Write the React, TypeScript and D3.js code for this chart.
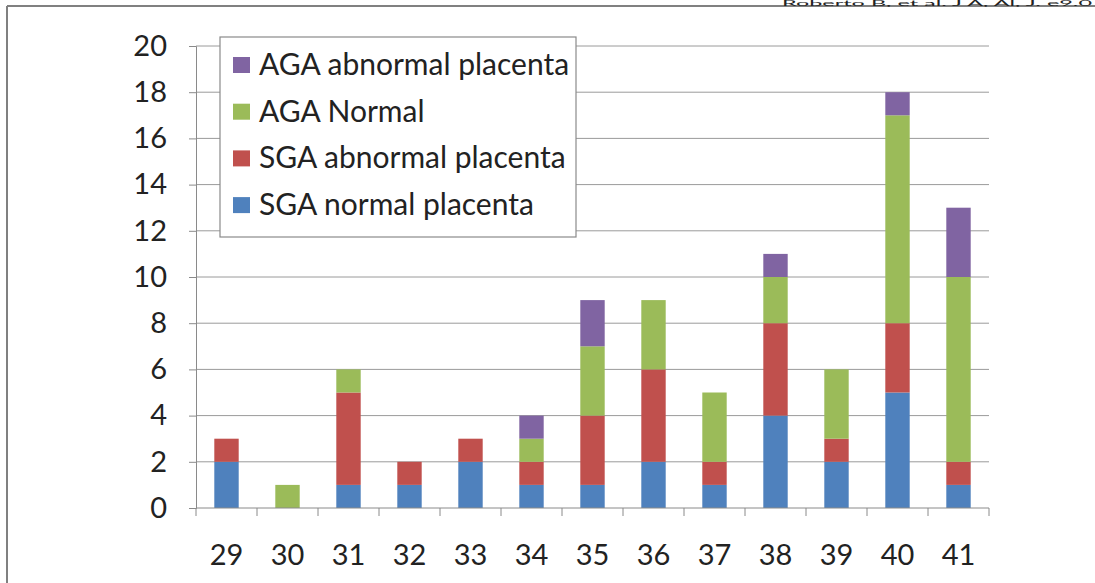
import React, { useRef, useEffect } from 'react';
import * as d3 from 'd3';

const weeks = ['29', '30', '31', '32', '33', '34', '35', '36', '37', '38', '39', '40', '41'];
const sgaNormal = [2, 0, 1, 1, 2, 1, 1, 2, 1, 4, 2, 5, 1];
const sgaAbnormal = [1, 0, 4, 1, 1, 1, 3, 4, 1, 4, 1, 3, 1];
const agaNormal = [0, 1, 1, 0, 0, 1, 3, 3, 3, 2, 3, 9, 8];
const agaAbnormal = [0, 0, 0, 0, 0, 1, 2, 0, 0, 1, 0, 1, 3];
const yTicks = [0, 2, 4, 6, 8, 10, 12, 14, 16, 18, 20];

const seriesNames = ['SGA normal placenta', 'SGA abnormal placenta', 'AGA Normal', 'AGA abnormal placenta'];
const seriesColors = ['#4F81BD', '#C0504D', '#9BBB59', '#8064A2'];

const W = 1095;
const H = 583;
const FONT = 'Lato, "Open Sans", sans-serif';

const App = () => {
  const svgRef = useRef<SVGSVGElement>(null);

  useEffect(() => {
    const svg = d3.select(svgRef.current).html('');

    // Frame
    svg.append('line').attr('x1', 7).attr('x2', W).attr('y1', 6).attr('y2', 6)
      .attr('stroke', '#808080').attr('stroke-width', 2);
    svg.append('line').attr('x1', 7).attr('x2', 7).attr('y1', 6).attr('y2', H)
      .attr('stroke', '#808080').attr('stroke-width', 2);
    svg.append('text').attr('x', 782).attr('y', 5.5)
      .attr('textLength', 310).attr('lengthAdjust', 'spacingAndGlyphs')
      .attr('font-family', FONT).attr('font-size', 7).attr('fill', '#222')
      .text('Roberto B, et al. J A, Al, J. e9.0');

    const x = d3.scaleBand().domain(weeks).range([196, 989]).paddingInner(0.6).paddingOuter(0.3);
    const y = d3.scaleLinear().domain([0, 20]).range([508, 46]);

    // Gridlines
    svg.append('g').selectAll('line').data(yTicks.slice(1)).join('line')
      .attr('x1', 196).attr('x2', 989)
      .attr('y1', d => y(d)).attr('y2', d => y(d))
      .attr('stroke', '#9a9a9a').attr('stroke-width', 1);

    // Stacked bars
    const rows = weeks.map((w, i) => ({
      week: w, s0: sgaNormal[i], s1: sgaAbnormal[i], s2: agaNormal[i], s3: agaAbnormal[i]
    }));
    const stack = d3.stack<any>().keys(['s0', 's1', 's2', 's3'])(rows);
    stack.forEach((layer, li) => {
      svg.append('g').selectAll('rect').data(layer).join('rect')
        .attr('x', d => x(d.data.week)!)
        .attr('width', x.bandwidth())
        .attr('y', d => y(d[1]))
        .attr('height', d => y(d[0]) - y(d[1]))
        .attr('fill', seriesColors[li]);
    });

    // Y axis
    const yAxis = svg.append('g').attr('transform', 'translate(196,0)')
      .call(d3.axisLeft(y).tickValues(yTicks).tickSize(7).tickPadding(22));
    yAxis.select('.domain').attr('stroke', '#8a8a8a');
    yAxis.selectAll('.tick line').attr('stroke', '#8a8a8a');
    yAxis.selectAll('text').attr('font-family', FONT).attr('font-size', 29).attr('fill', '#222');

    // X axis
    const xAxis = svg.append('g').attr('transform', 'translate(0,508)');
    xAxis.append('line').attr('x1', 196).attr('x2', 989).attr('stroke', '#8a8a8a');
    const bounds = d3.range(weeks.length + 1).map(i => 196 + i * x.step());
    xAxis.selectAll('line.tk').data(bounds).join('line').attr('class', 'tk')
      .attr('x1', d => d).attr('x2', d => d).attr('y1', 0).attr('y2', 8)
      .attr('stroke', '#8a8a8a');
    xAxis.selectAll('text').data(weeks).join('text')
      .attr('x', d => x(d)! + x.bandwidth() / 2)
      .attr('y', 57)
      .attr('text-anchor', 'middle')
      .attr('font-family', FONT).attr('font-size', 29).attr('fill', '#222')
      .text(d => d);

    // Legend
    const lg = svg.append('g');
    lg.append('rect').attr('x', 220).attr('y', 37).attr('width', 356).attr('height', 200)
      .attr('fill', '#fff').attr('stroke', '#8a8a8a').attr('stroke-width', 1.2);
    const order = [3, 2, 1, 0];
    order.forEach((si, k) => {
      const cy = 65 + k * 46.7;
      lg.append('rect').attr('x', 233).attr('y', cy - 8).attr('width', 17).attr('height', 16)
        .attr('fill', seriesColors[si]);
      lg.append('text').attr('x', 259).attr('y', cy + 10)
        .attr('font-family', FONT).attr('font-size', 30).attr('fill', '#222')
        .text(seriesNames[si]);
    });
  }, []);

  return (
    <svg ref={svgRef} width={W} height={H}
      style={{ position: 'absolute', left: 0, top: 0, background: '#fff' }} />
  );
};

export default App;
